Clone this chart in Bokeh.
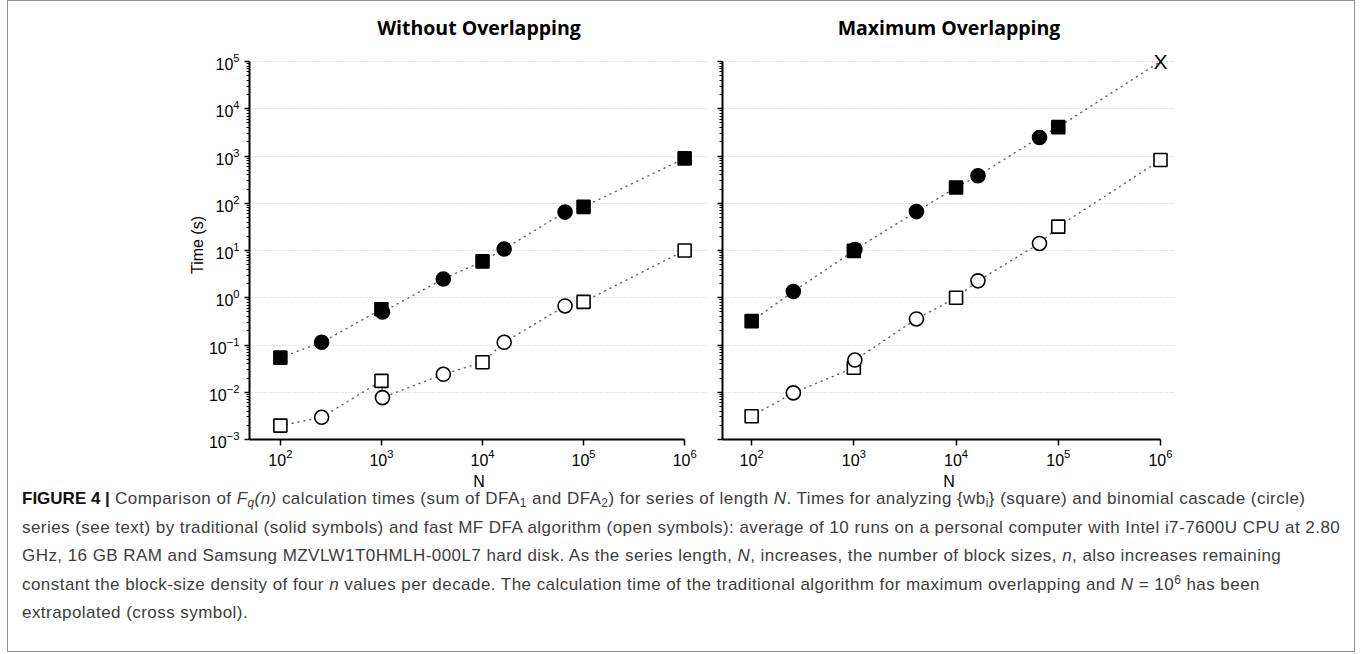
import numpy as np
from bokeh.plotting import figure
from bokeh.layouts import column, row
from bokeh.models import Div, FixedTicker, CustomJSTickFormatter, Range1d, LogTickFormatter
from bokeh.core.properties import value
from bokeh.embed import file_html
from bokeh.resources import INLINE

# ---- data: calculation time (s) versus series length N ----
N_square = [1e2, 1e3, 1e4, 1e5, 1e6]          # {wb_i} series lengths
N_circle = [256, 1024, 4096, 16384, 65536]     # binomial cascade lengths

# Without overlapping
wo_trad_square = [0.054, 0.57, 5.9, 84, 890]
wo_trad_circle = [0.114, 0.50, 2.5, 10.8, 65]
wo_fast_square = [0.00197, 0.0174, 0.043, 0.82, 10.0]
wo_fast_circle = [0.00295, 0.0077, 0.024, 0.114, 0.67]

# Maximum overlapping
mo_trad_square_N = [1e2, 1e3, 1e4, 1e5]
mo_trad_square = [0.32, 9.8, 215, 4080]
mo_trad_circle = [1.36, 10.5, 66.6, 383, 2470]
mo_fast_square = [0.0031, 0.033, 1.0, 32, 822]
mo_fast_circle = [0.0097, 0.048, 0.356, 2.28, 14.1]
mo_extrap_N = [1e6]
mo_extrap = [1e5]                                # extrapolated traditional time

titles = ["Without Overlapping", "Maximum Overlapping"]
x_major = [1e2, 1e3, 1e4, 1e5, 1e6]
y_major = [10.0 ** k for k in range(-3, 6)]
y_minor = [m * 10.0 ** k for k in range(-3, 5) for m in range(2, 10)]

FONT = "Liberation Sans"
Y_LO, Y_HI = 1e-3, 10 ** 5.233


def merged(xa, ya, xb, yb):
    x = np.concatenate([np.asarray(xa, float), np.asarray(xb, float)])
    y = np.concatenate([np.asarray(ya, float), np.asarray(yb, float)])
    order = np.argsort(x, kind="stable")
    return x[order], y[order]


def make_panel(title, width, border_left, border_right, x_lo, x_hi, show_ylabels):
    p = figure(
        width=width, height=492,
        x_axis_type="log", y_axis_type="log",
        x_range=Range1d(x_lo, x_hi), y_range=Range1d(Y_LO, Y_HI),
        title=title, output_backend="svg", toolbar_location=None,
        min_border_left=border_left, min_border_right=border_right,
        min_border_top=49, min_border_bottom=54,
        outline_line_color=None, background_fill_color="white",
        border_fill_color="white",
    )
    p.title.align = "center"
    p.title.text_font = "Open Sans"
    p.title.text_font_style = "bold"
    p.title.text_font_size = "19.5px"
    p.title.text_color = "black"
    p.title.standoff = 19

    xa = p.xaxis[0]
    xa.ticker = FixedTicker(ticks=x_major)
    xa.formatter = LogTickFormatter()
    xa.bounds = (x_lo, 1e6)
    xa.axis_label = "N"
    xa.minor_tick_line_color = None
    xa.major_tick_out = 6
    xa.major_tick_in = 0
    xa.major_label_standoff = 3
    xa.axis_label_standoff = 4

    ya = p.yaxis[0]
    ya.ticker = FixedTicker(ticks=y_major, minor_ticks=y_minor)
    ya.bounds = (Y_LO, 1e5)
    ya.major_tick_out = 5
    ya.major_tick_in = 0
    ya.minor_tick_out = 3
    ya.minor_tick_in = 0
    if show_ylabels:
        ya.formatter = LogTickFormatter()
        ya.axis_label = "Time (s)"
        ya.major_label_standoff = 5
        ya.axis_label_standoff = 0
    else:
        ya.formatter = CustomJSTickFormatter(code="return '';")
        ya.major_label_standoff = 0
        ya.major_label_text_font_size = "1px"

    for ax in (xa, ya):
        ax.axis_line_width = 2
        ax.axis_line_color = "black"
        ax.major_tick_line_width = 1.5
        ax.minor_tick_line_width = 1.2
        ax.major_label_text_font = FONT
        ax.major_label_text_color = "black"
        ax.axis_label_text_font = FONT
        ax.axis_label_text_font_size = "16px"
        ax.axis_label_text_font_style = "normal"
        ax.axis_label_text_color = "black"
    xa.major_label_text_font_size = "16px"
    if show_ylabels:
        ya.major_label_text_font_size = "16px"

    p.xgrid.grid_line_color = None
    p.ygrid.grid_line_color = "#c4c4c4"
    p.ygrid.grid_line_dash = "1 2"
    p.ygrid.grid_line_width = 1
    return p


def draw_series(p, N_sq, y_sq, N_ci, y_ci, filled):
    lx, ly = merged(N_sq, y_sq, N_ci, y_ci)
    p.line(lx, ly, line_color="#5e5e5e", line_width=1.4, line_dash="1 5", line_cap="round")
    fill = "black" if filled else "white"
    p.scatter(N_sq, y_sq, marker="square", size=13, fill_color=fill,
              line_color="black", line_width=1.6)
    p.scatter(N_ci, y_ci, marker="circle", size=14, fill_color=fill,
              line_color="black", line_width=1.6)


left = make_panel(titles[0], 700, 241, 0, 10 ** 1.6946, 10 ** 6.236, True)
draw_series(left, N_square, wo_trad_square, N_circle, wo_trad_circle, True)
draw_series(left, N_square, wo_fast_square, N_circle, wo_fast_circle, False)

right = make_panel(titles[1], 487, 14, 20, 10 ** 1.715, 10 ** 6.147, False)
# traditional line runs on to the extrapolated point
trad_sq_N = list(mo_trad_square_N) + list(mo_extrap_N)
trad_sq_y = list(mo_trad_square) + list(mo_extrap)
lx, ly = merged(trad_sq_N, trad_sq_y, N_circle, mo_trad_circle)
right.line(lx, ly, line_color="#5e5e5e", line_width=1.4, line_dash="1 5", line_cap="round")
right.scatter(mo_trad_square_N, mo_trad_square, marker="square", size=13,
              fill_color="black", line_color="black", line_width=1.6)
right.scatter(N_circle, mo_trad_circle, marker="circle", size=14,
              fill_color="black", line_color="black", line_width=1.6)
right.text(mo_extrap_N, mo_extrap, text=["X"], text_align="center", text_baseline="middle",
           text_font=value(FONT), text_font_size="21px", text_color="black")
draw_series(right, N_square, mo_fast_square, N_circle, mo_fast_circle, False)

SUB = '<sub style="font-size:70%;line-height:0;vertical-align:-0.25em">'
SUP = '<sup style="font-size:70%;line-height:0;vertical-align:0.5em">'
caption_html = f"""
<div style="font-family:'Liberation Sans',sans-serif;font-size:17px;letter-spacing:0.45px;
line-height:28.5px;color:#3c3c3c;padding-left:9px;margin-top:-13px;white-space:nowrap;">
<b style="color:#111;letter-spacing:0">FIGURE 4 |</b> Comparison of <i>F{SUB}q</sub>(n)</i> calculation times
(sum of DFA{SUB}1</sub> and DFA{SUB}2</sub>) for series of length <i>N</i>.
Times for analyzing {{wb{SUB}i</sub>}} (square) and binomial cascade (circle)<br>
series (see text) by traditional (solid symbols) and fast MF DFA algorithm (open symbols): average of 10 runs on a
personal computer with Intel i7-7600U CPU at 2.80<br>
GHz, 16 GB RAM and Samsung MZVLW1T0HMLH-000L7 hard disk. As the series length, <i>N</i>, increases, the number of
block sizes, <i>n</i>, also increases remaining<br>
constant the block-size density of four <i>n</i> values per decade. The calculation time of the traditional algorithm
for maximum overlapping and <i>N</i> = 10{SUP}6</sup> has been<br>
extrapolated (cross symbol).
</div>
"""
caption = Div(text=caption_html, width=1340, height=155)

layout = column(
    row(left, right),
    caption,
    margin=(0, 0, 0, 7),
    styles={"border": "1px solid #8f8f8f"},
    width=1348, height=652,
)

open("out.html", "w").write(file_html(layout, INLINE))
